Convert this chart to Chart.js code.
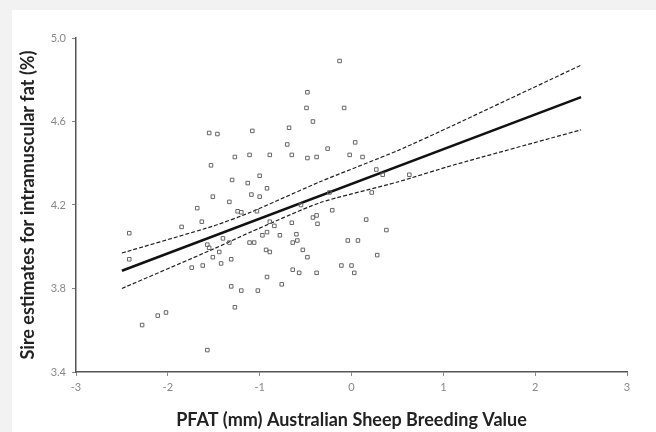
<!DOCTYPE html>
<html>
<head>
<meta charset="utf-8">
<script src="https://cdn.jsdelivr.net/npm/chart.js@4"></script>
<style>
  html, body { margin: 0; padding: 0; background: #f2f2f2; }
  #wrap { position: absolute; left: 12px; top: 10px; width: 644px; height: 422px; background: #fff; }
</style>
</head>
<body>
<div id="wrap"><canvas id="myCanvas" width="644" height="422"></canvas></div>
<script>
// sire estimates
var pfatX = [-0.13, -0.48, -0.49, -0.08, -0.42, -0.68, -1.08, -1.55, -1.46, -0.70,
  -0.65, -0.89, -1.11, -1.27, -0.48, -0.38, -0.26, 0.04, -0.02, 0.12,
  -1.53, -1.30, -1.13, -1.00, -0.92, -1.09, -1.00, -1.51, -1.33, -1.68,
  -1.63, -1.85, -1.24, -0.89, -0.92, -0.97, -0.78, -1.11, -0.93, -1.57,
  -1.51, -1.42, -1.31, -1.62, -1.74, -0.92, -1.31, -1.20, -1.02, -0.76,
  -1.27, -2.28, -2.11, -2.02, -1.57, -2.42, -2.42, -0.64, -0.53, -0.64,
  -0.38, -0.42, -1.03, 0.27, 0.34, 0.63, 0.22, -0.24, -0.38, -0.37,
  -0.65, -0.59, -0.48, 0.16, 0.38, -0.04, 0.07, 0.28, -0.11, 0.00,
  0.03, -0.21, -1.40, -0.84, -0.55, -1.20, -1.06, -0.89, -1.55, -1.44,
  -1.33, -0.57, -0.60];
var imfY = [4.89, 4.74, 4.665, 4.665, 4.60, 4.57, 4.555, 4.545, 4.54, 4.49,
  4.44, 4.44, 4.44, 4.43, 4.425, 4.43, 4.47, 4.50, 4.44, 4.43,
  4.39, 4.32, 4.305, 4.34, 4.28, 4.25, 4.24, 4.24, 4.215, 4.185,
  4.12, 4.095, 4.17, 4.12, 4.07, 4.055, 4.055, 4.02, 3.985, 4.01,
  3.95, 3.92, 3.94, 3.91, 3.90, 3.855, 3.81, 3.79, 3.79, 3.82,
  3.71, 3.625, 3.67, 3.685, 3.505, 4.065, 3.94, 4.02, 3.985, 3.89,
  3.875, 4.14, 4.17, 4.37, 4.345, 4.345, 4.26, 4.26, 4.15, 4.11,
  4.115, 4.03, 3.95, 4.13, 4.08, 4.03, 4.03, 3.96, 3.91, 3.91,
  3.875, 4.175, 4.04, 4.10, 4.20, 4.165, 4.02, 3.975, 3.995, 3.975,
  4.02, 3.875, 4.06];

// regression line and 95% band
var fitX = [-2.5, 2.5];
var fitY = [3.885, 4.717];
var bandX = [-2.5, -1.5, -1.1, -0.35, 0.5, 1.1, 2.5];
var upperY = [3.97, 4.10, 4.165, 4.31, 4.46, 4.58, 4.87];
var lowerY = [3.80, 3.99, 4.07, 4.21, 4.31, 4.39, 4.56];

var xTicks = [-3, -2, -1, 0, 1, 2, 3];
var yTicks = [3.4, 3.8, 4.2, 4.6, 5.0];

function pairs(xs, ys) {
  var out = [];
  for (var i = 0; i < xs.length; i++) out.push({ x: xs[i], y: ys[i] });
  return out;
}

var ctx = document.querySelector('#myCanvas').getContext('2d');

var chart = new Chart(ctx, {
  type: 'scatter',
  data: {
    datasets: [
      {
        label: 'Sires',
        data: pairs(pfatX, imfY),
        pointStyle: 'rect',
        pointRadius: 2.5,
        borderColor: '#666',
        backgroundColor: 'rgba(0,0,0,0)',
        borderWidth: 1,
      },
      {
        label: 'Fit',
        data: pairs(fitX, fitY),
        showLine: true,
        pointRadius: 0,
        borderColor: '#111',
        borderWidth: 2.5,
      },
      {
        label: 'Upper',
        data: pairs(bandX, upperY),
        showLine: true,
        pointRadius: 0,
        borderColor: '#222',
        borderWidth: 1.2,
        borderDash: [4, 2],
        tension: 0.2,
      },
      {
        label: 'Lower',
        data: pairs(bandX, lowerY),
        showLine: true,
        pointRadius: 0,
        borderColor: '#222',
        borderWidth: 1.2,
        borderDash: [4, 2],
        tension: 0.2,
      },
    ],
  },
  options: {
    responsive: false,
    animation: false,
    layout: { padding: { left: 0, right: 29, top: 28, bottom: 0 } },
    plugins: {
      legend: { display: false },
      tooltip: { enabled: false },
    },
    scales: {
      x: {
        type: 'linear',
        min: -3,
        max: 3,
        afterBuildTicks: function (s) { s.ticks = xTicks.map(function (v) { return { value: v }; }); },
        afterFit: function (s) { s.height = 60; },
        border: { color: '#555', width: 1.5 },
        grid: { drawOnChartArea: false, drawTicks: true, tickLength: 4, color: '#888' },
        ticks: { color: '#888', font: { family: 'Lato', size: 11 }, padding: 5 },
        title: {
          display: true,
          text: 'PFAT (mm) Australian Sheep Breeding Value',
          color: '#222',
          font: { family: 'Lato', size: 18, weight: 'bold' },
          padding: { top: 0, bottom: 1 },
        },
      },
      y: {
        type: 'linear',
        min: 3.4,
        max: 5.0,
        afterBuildTicks: function (s) { s.ticks = yTicks.map(function (v) { return { value: v }; }); },
        afterFit: function (s) { s.width = 64; },
        border: { color: '#555', width: 1.5 },
        grid: { drawOnChartArea: false, drawTicks: true, tickLength: 4, color: '#888' },
        ticks: {
          color: '#888',
          font: { family: 'Lato', size: 11 },
          padding: 6,
          callback: function (v) { return Number(v).toFixed(1); },
        },
        title: {
          display: true,
          text: 'Sire estimates for intramuscular fat (%)',
          color: '#222',
          font: { family: 'Lato', size: 18, weight: 'bold' },
          padding: { top: 5, bottom: 0 },
        },
      },
    },
  },
});
</script>
</body>
</html>
